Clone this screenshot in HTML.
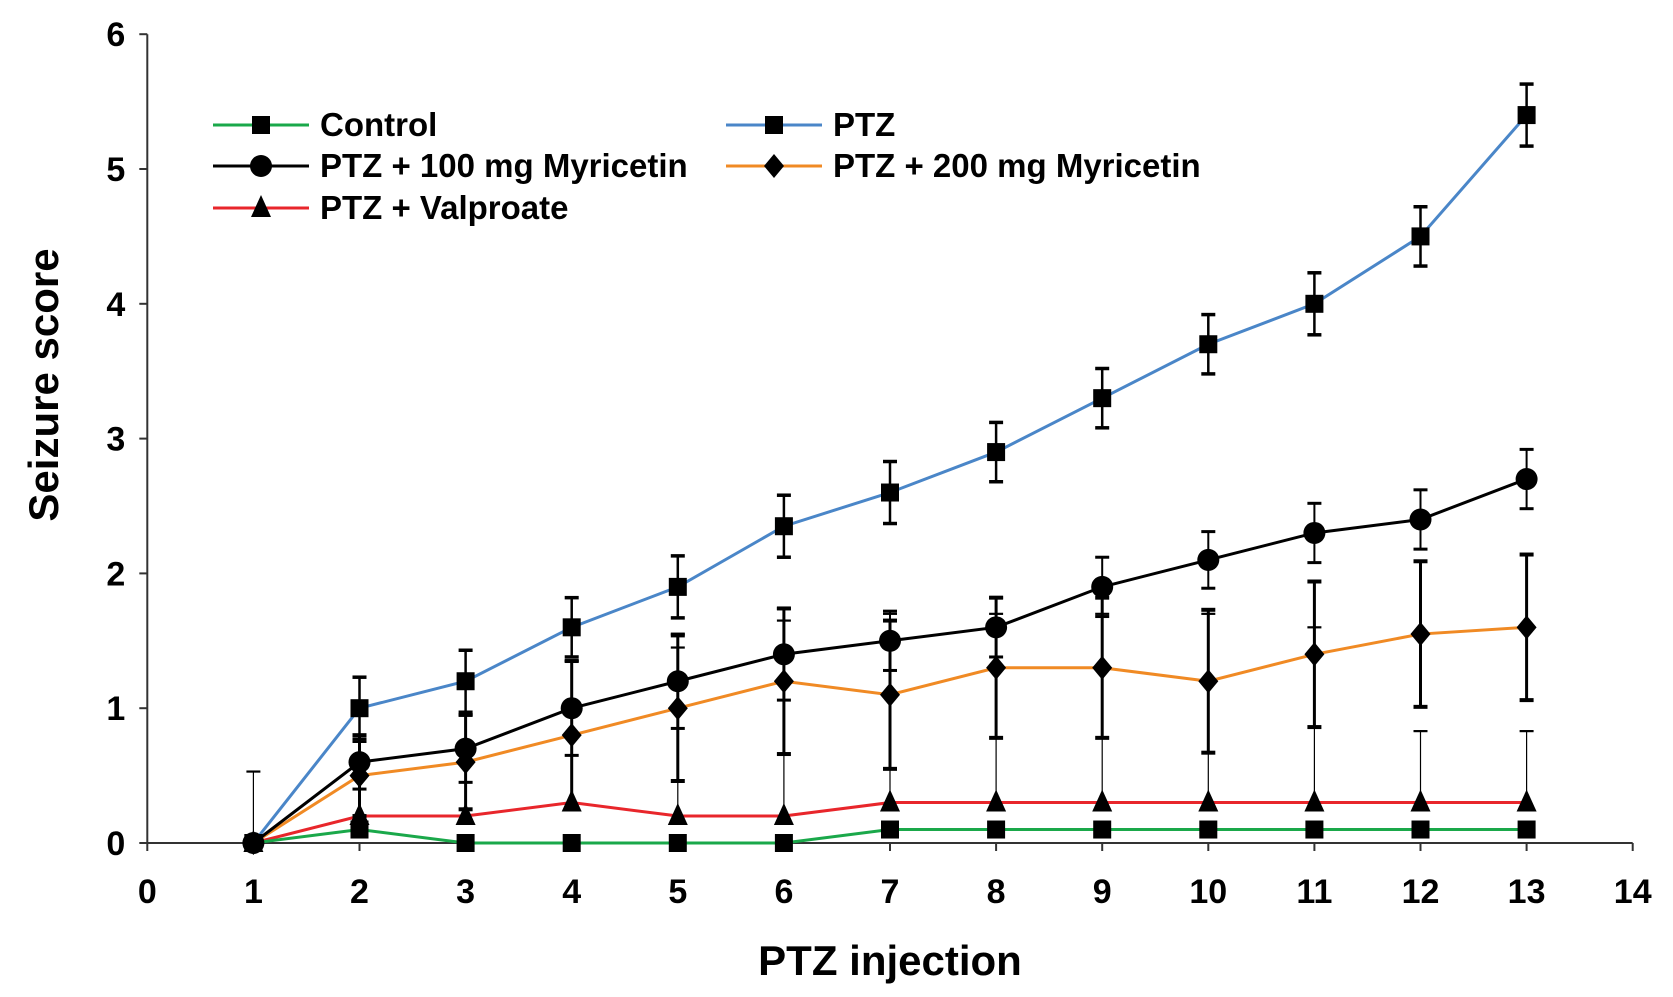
<!DOCTYPE html><html><head><style>body{margin:0;background:#fff}svg{font-family:"Liberation Sans",Arial,sans-serif;font-weight:bold}</style></head><body>
<svg id="c" width="1673" height="992"></svg>
<script>
const xTicks=[0,1,2,3,4,5,6,7,8,9,10,11,12,13,14];
const yTicks=[0,1,2,3,4,5,6];
const injections=[1,2,3,4,5,6,7,8,9,10,11,12,13];
const controlVals=[0,0.1,0,0,0,0,0.1,0.1,0.1,0.1,0.1,0.1,0.1];
const ptzVals=[0,1,1.2,1.6,1.9,2.35,2.6,2.9,3.3,3.7,4.0,4.5,5.4];
const ptzErr=[0,0.23,0.23,0.22,0.23,0.23,0.23,0.22,0.22,0.22,0.23,0.22,0.23];
const m100Vals=[0,0.6,0.7,1.0,1.2,1.4,1.5,1.6,1.9,2.1,2.3,2.4,2.7];
const m100Err=[0,0.2,0.25,0.35,0.35,0.34,0.22,0.22,0.22,0.21,0.22,0.22,0.22];
const m200Vals=[0,0.5,0.6,0.8,1.0,1.2,1.1,1.3,1.3,1.2,1.4,1.55,1.6];
const m200Err=[0,0.3,0.35,0.55,0.54,0.54,0.55,0.52,0.52,0.53,0.54,0.54,0.54];
const valVals=[0,0.2,0.2,0.3,0.2,0.2,0.3,0.3,0.3,0.3,0.3,0.3,0.3];
const valErr=[0.53,0.55,0.75,1.05,1.25,1.45,1.4,1.4,1.4,1.4,1.3,0.53,0.53];
const NS="http://www.w3.org/2000/svg",svg=document.getElementById('c');
const X=v=>147.3+v*106.1, Y=v=>843-v*134.8;
function el(t,a,p){const e=document.createElementNS(NS,t);for(const k in a)e.setAttribute(k,a[k]);(p||svg).appendChild(e);return e;}
const ax=el('g',{});
el('line',{x1:X(0),y1:Y(0),x2:X(14),y2:Y(0),stroke:'#333','stroke-width':2},ax);
el('line',{x1:X(0),y1:Y(0),x2:X(0),y2:Y(6),stroke:'#333','stroke-width':2},ax);
xTicks.forEach(t=>{el('line',{x1:X(t),y1:Y(0),x2:X(t),y2:Y(0)+8,stroke:'#333','stroke-width':2},ax);
const tx=el('text',{x:X(t),y:Y(0)+60,'text-anchor':'middle','font-size':34},ax);tx.textContent=t;
});
yTicks.forEach(t=>{el('line',{x1:X(0)-8,y1:Y(t),x2:X(0),y2:Y(t),stroke:'#333','stroke-width':2},ax);
const tx=el('text',{x:X(0)-22,y:Y(t)+12,'text-anchor':'end','font-size':34},ax);tx.textContent=t;
});
let t=el('text',{x:X(7),y:975,'text-anchor':'middle','font-size':42});t.textContent='PTZ injection';

t=el('text',{x:0,y:0,transform:'translate(58,385) rotate(-90)','text-anchor':'middle','font-size':42});t.textContent='Seizure score';

function marker(g,type,x,y,s){
 if(type==='sq')el('rect',{x:x-s,y:y-s,width:2*s,height:2*s,fill:'#000'},g);
 else if(type==='ci')el('circle',{cx:x,cy:y,r:s+2,fill:'#000'},g);
 else if(type==='di')el('polygon',{points:`${x},${y-s-3} ${x+s+1},${y} ${x},${y+s+3} ${x-s-1},${y}`,fill:'#000'},g);
 else el('polygon',{points:`${x},${y-s-4} ${x+s+1},${y+s} ${x-s-1},${y+s}`,fill:'#000'},g);
}
function series(name,vals,err,color,type,ew,upOnly){
 const g=el('g',{});
 if(err)vals.forEach((v,i)=>{if(!err[i])return;const x=X(injections[i]);
  const lo=upOnly?v:v-err[i];
  el('line',{x1:x,y1:Y(lo),x2:x,y2:Y(v+err[i]),stroke:'#000','stroke-width':ew},g);
  (upOnly?[v+err[i]]:[v-err[i],v+err[i]]).forEach(e=>el('line',{x1:x-7,y1:Y(e),x2:x+7,y2:Y(e),stroke:'#000','stroke-width':ew+1},g));});
 el('polyline',{points:vals.map((v,i)=>X(injections[i])+','+Y(v)).join(' '),fill:'none',stroke:color,'stroke-width':3},g);
 vals.forEach((v,i)=>marker(g,type,X(injections[i]),Y(v),9));
}
series('series-valproate',valVals,valErr,'#e8262b','tr',1.2,true);
series('series-control',controlVals,null,'#1aa84a','sq',1);
series('series-200mg',m200Vals,m200Err,'#f08a24','di',3);
series('series-100mg',m100Vals,m100Err,'#000','ci',2);
series('series-ptz',ptzVals,ptzErr,'#4a86c8','sq',2.5);
const leg=[['Control','#1aa84a','sq',213,125],['PTZ','#4a86c8','sq',726,125],['PTZ + 100 mg Myricetin','#000','ci',213,166],['PTZ + 200 mg Myricetin','#f08a24','di',726,166],['PTZ + Valproate','#e8262b','tr',213,208]];
leg.forEach(l=>{const g=el('g',{});
el('line',{x1:l[3],y1:l[4],x2:l[3]+96,y2:l[4],stroke:l[1],'stroke-width':3},g);marker(g,l[2],l[3]+48,l[4],9);
const tx=el('text',{x:l[3]+107,y:l[4]+11,'font-size':33},g);tx.textContent=l[0];});
</script></body></html>
